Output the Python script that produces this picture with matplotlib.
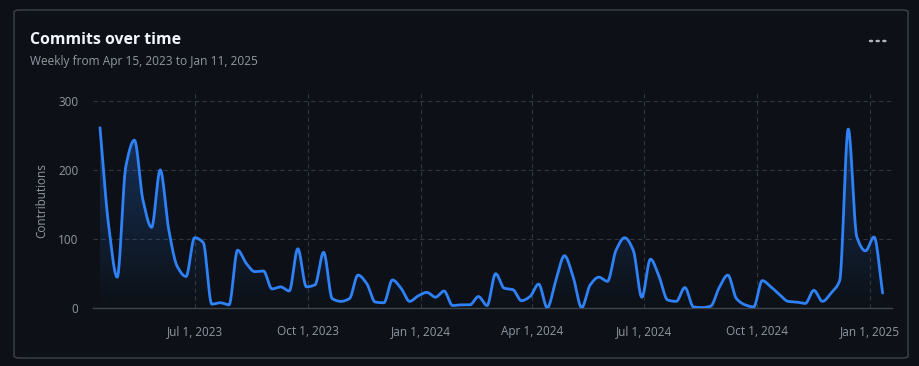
import numpy as np
import pandas as pd
import matplotlib
matplotlib.use("Agg")
import matplotlib.pyplot as plt
import matplotlib.dates as mdates
from matplotlib.patches import FancyBboxPatch, Polygon, Circle

plt.rcParams['font.family'] = ['Open Sans', 'DejaVu Sans']

# weekly commit counts, Apr 15 2023 .. Jan 11 2025
start = '2023-04-15'
commits = [261, 120, 45, 205, 243, 156, 117, 200, 113, 60,
           46, 102, 95, 6, 8, 5, 84, 65, 53, 54,
           28, 31, 25, 86, 31, 34, 81, 14, 10, 14,
           48, 36, 9, 8, 41, 29, 10, 18, 23, 16,
           25, 4, 5, 5, 17, 4, 50, 29, 27, 11,
           17, 35, 1, 40, 76, 46, 1, 34, 45, 39,
           84, 102, 84, 16, 71, 46, 12, 10, 30, 2,
           1, 3, 30, 48, 14, 5, 2, 40, 31, 20,
           10, 9, 7, 26, 10, 22, 40, 259, 103, 83,
           103, 22]
yticks = [0, 100, 200, 300]

weeks = pd.date_range(start, periods=len(commits), freq='7D')

bg = '#0d1117'
grid_c = '#30363d'
text_c = '#9198a1'
line_c = '#2f81f7'


def pchip(x, y, xs):
    # monotone cubic interpolation
    h = np.diff(x)
    d = np.diff(y) / h
    m = np.zeros_like(y)
    for k in range(1, len(y) - 1):
        if d[k - 1] * d[k] > 0:
            w1 = 2 * h[k] + h[k - 1]
            w2 = h[k] + 2 * h[k - 1]
            m[k] = (w1 + w2) / (w1 / d[k - 1] + w2 / d[k])
    m[0] = d[0]
    m[-1] = d[-1]
    idx = np.clip(np.searchsorted(x, xs) - 1, 0, len(x) - 2)
    t = (xs - x[idx]) / h[idx]
    h00 = 2 * t**3 - 3 * t**2 + 1
    h10 = t**3 - 2 * t**2 + t
    h01 = -2 * t**3 + 3 * t**2
    h11 = t**3 - t**2
    return (h00 * y[idx] + h10 * h[idx] * m[idx] + h01 * y[idx + 1]
            + h11 * h[idx] * m[idx + 1])


xn = mdates.date2num(weeks.to_pydatetime())
yv = np.array(commits, dtype=float)
xs = np.linspace(xn[0], xn[-1], 2000)
ys = pchip(xn, yv, xs)

fig = plt.figure(figsize=(9.19, 3.66), dpi=100)
fig.patch.set_facecolor(bg)

card = FancyBboxPatch((14 / 919, 8 / 366), 894 / 919, 348 / 366,
                      boxstyle='round,pad=0,rounding_size=0.006',
                      transform=fig.transFigure, facecolor='#0d1117',
                      edgecolor='#3d444d', linewidth=1, zorder=-10)
fig.add_artist(card)

fig.text(30 / 919, 1 - 40 / 366, 'Commits over time', color='#f0f6fc',
         fontsize=11.4, fontweight='bold', va='center')
fig.text(30 / 919, 1 - 61 / 366, 'Weekly from Apr 15, 2023 to Jan 11, 2025',
         color=text_c, fontsize=8.6, va='center')
for dx in [871, 877.7, 884.4]:
    fig.add_artist(Circle((dx / 919, 1 - 41 / 366), 1.5 / 919,
                          transform=fig.transFigure, color='#b0b7bf'))

ax = fig.add_axes([93 / 919, 57.7 / 366, 799 / 919, 216.3 / 366])
ax.set_facecolor('none')

x0 = mdates.date2num(pd.Timestamp(start)) - 5.7
x1 = xn[-1] + 7.6

# gradient fill under the curve
grad = np.zeros((256, 1, 4))
grad[:, 0, 0] = 0.18
grad[:, 0, 1] = 0.5
grad[:, 0, 2] = 0.97
grad[:, 0, 3] = np.linspace(0.32, 0.0, 256)
im = ax.imshow(grad, aspect='auto', extent=[x0, x1, 0, 280],
               origin='upper', zorder=1)
poly = Polygon(np.column_stack([np.r_[xs[0], xs, xs[-1]],
                                np.r_[0, ys, 0]]),
               closed=True, transform=ax.transData)
im.set_clip_path(poly)
ax.set_xlim(x0, x1)
ax.set_ylim(0, 312.6)

ax.plot(xs, ys, color=line_c, linewidth=2, zorder=3,
        solid_capstyle='round')

ax.set_yticks(yticks)
ax.xaxis.set_major_locator(mdates.MonthLocator(bymonth=[1, 4, 7, 10]))
ax.xaxis.set_major_formatter(
    plt.FuncFormatter(lambda v, p: (lambda d: f"{d:%b} {d.day}, {d.year}")(mdates.num2date(v))))
ax.grid(True, color=grid_c, linestyle=(0, (4, 3)), linewidth=0.8, zorder=0)
ax.set_axisbelow(True)
ax.tick_params(length=0, colors=text_c, labelsize=8.5)
ax.tick_params(axis='y', pad=10.5)
ax.tick_params(axis='x', pad=12)
for s in ['top', 'right', 'left']:
    ax.spines[s].set_visible(False)
ax.spines['bottom'].set_color('#3d444d')
ax.spines['bottom'].set_linewidth(1)
ax.set_ylabel('Contributions', color=text_c, fontsize=8.5, labelpad=7)

fig.savefig('out.png', dpi=100, facecolor=bg)
